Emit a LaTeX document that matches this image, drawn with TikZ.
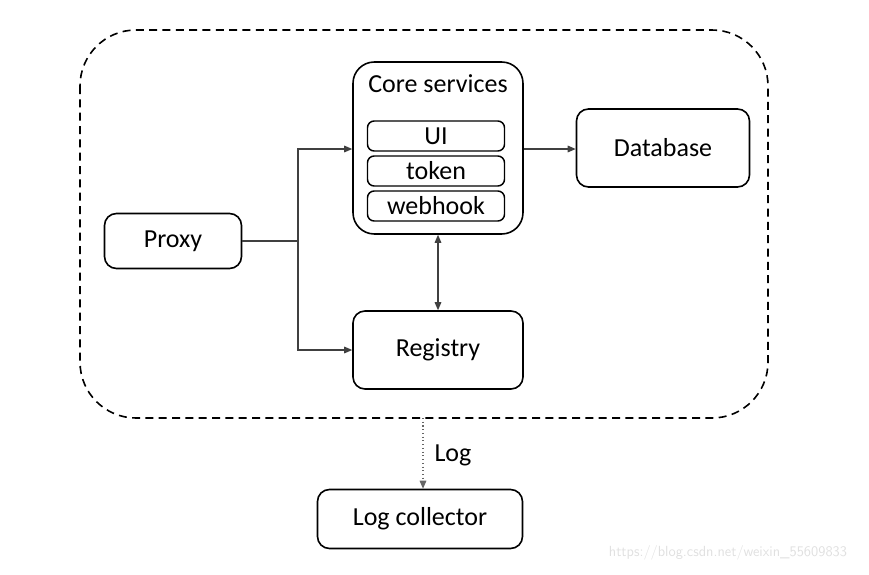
\documentclass[tikz,border=0pt]{standalone}
\usepackage{fontspec}
\setmainfont{Carlito}
\usetikzlibrary{arrows.meta}
\begin{document}
\begin{tikzpicture}[x=0.75pt,y=-0.75pt,
  lbl/.style={font=\fontsize{19.5}{22}\selectfont},
  box/.style={draw=black,line width=1.2pt,rounded corners=9pt,lbl},
  inner/.style={draw=black,line width=1.1pt,rounded corners=5pt,lbl,inner sep=0pt},
  conn/.style={draw=black!75,line width=0.8pt},
  tip/.style={-{Triangle[length=6pt,width=5pt]}}]
\useasboundingbox (0,0) rectangle (869,575);
% outer dashed region
\draw[line width=1.2pt,dash pattern=on 6pt off 4pt,rounded corners=42pt] (80,30) rectangle (768,418);
% core services
\node[box,rounded corners=16pt,minimum width=170*0.75pt,minimum height=172*0.75pt] (core) at (438,148) {};
\node[lbl] (coretitle) at (438,84) {Core services};
\node[inner,minimum width=137*0.75pt,minimum height=30*0.75pt] (ui) at (436,136) {UI};
\node[inner,minimum width=137*0.75pt,minimum height=30*0.75pt] (token) at (436,171) {token};
\node[inner,minimum width=137*0.75pt,minimum height=30*0.75pt] (webhook) at (436,206) {webhook};
% other boxes
\node[box,minimum width=173*0.75pt,minimum height=78*0.75pt] (db) at (663,148) {Database};
\node[box,minimum width=137*0.75pt,minimum height=55*0.75pt] (proxy) at (173,241) {Proxy};
\node[box,minimum width=170*0.75pt,minimum height=78*0.75pt] (reg) at (438,350) {Registry};
\node[box,minimum width=205*0.75pt,minimum height=59*0.75pt] (log) at (420,519) {Log collector};
% connectors
\coordinate (split) at (298,241);
\draw[conn] (proxy.east) -- (split);
\draw[conn,tip] (split) |- (core.west |- 0,149);
\draw[conn,tip] (split) |- (reg.west);
\draw[conn,tip] (core.east |- 0,149) -- (db.west |- 0,149);
\draw[conn,{Triangle[length=6pt,width=5pt]}-{Triangle[length=6pt,width=5pt]}] (core.south) -- (reg.north);
\coordinate (logtop) at (423,418);
\draw[draw=black!60,line width=0.8pt,dotted,tip] (logtop) -- (log.north -| logtop);
\node[lbl] (loglabel) at (453,455) {Log};
\node[text=black!12,font=\fontsize{11}{13}\selectfont\sffamily] (wm) at (728,553) {https://blog.csdn.net/weixin\_55609833};
\end{tikzpicture}
\end{document}
